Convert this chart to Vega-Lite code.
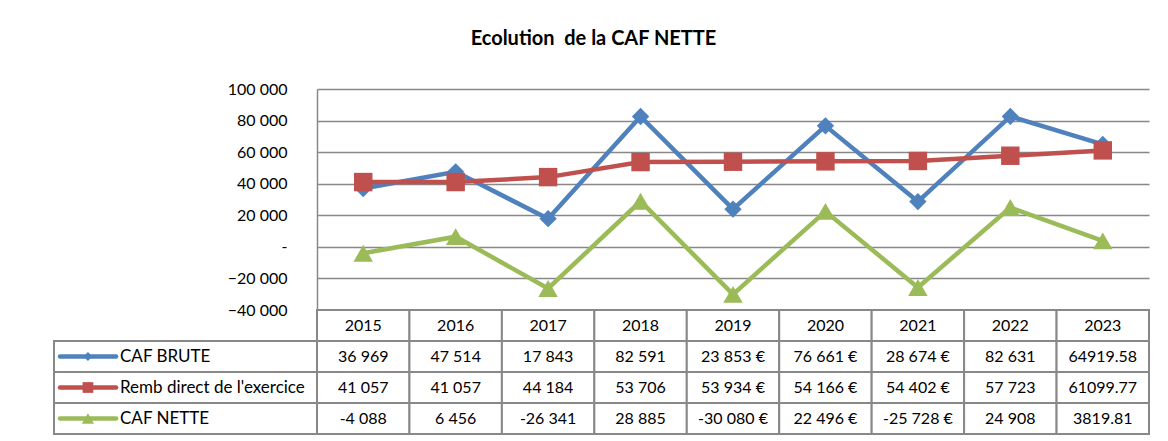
{
  "$schema": "https://vega.github.io/schema/vega-lite/v6.json",
  "padding": {"left": 53, "top": 29, "right": 0, "bottom": 0},
  "background": "white",
  "title": {"text": "Ecolution\u00a0 de la CAF NETTE", "font": "Lato", "fontSize": 20, "fontWeight": "bold", "color": "#000", "anchor": "middle", "offset": 32, "dx": -8},
  "config": {
    "view": {"stroke": null},
    "font": "Lato",
    "concat": {"spacing": 0}
  },
  "datasets": {
    "caf": [
      {"year": "2015", "series": "CAF BRUTE", "value": 36969, "label": "36 969"},
      {"year": "2016", "series": "CAF BRUTE", "value": 47514, "label": "47 514"},
      {"year": "2017", "series": "CAF BRUTE", "value": 17843, "label": "17 843"},
      {"year": "2018", "series": "CAF BRUTE", "value": 82591, "label": "82 591"},
      {"year": "2019", "series": "CAF BRUTE", "value": 23853, "label": "23 853 €"},
      {"year": "2020", "series": "CAF BRUTE", "value": 76661, "label": "76 661 €"},
      {"year": "2021", "series": "CAF BRUTE", "value": 28674, "label": "28 674 €"},
      {"year": "2022", "series": "CAF BRUTE", "value": 82631, "label": "82 631"},
      {"year": "2023", "series": "CAF BRUTE", "value": 64919.58, "label": "64919.58"},
      {"year": "2015", "series": "Remb direct de l'exercice", "value": 41057, "label": "41 057"},
      {"year": "2016", "series": "Remb direct de l'exercice", "value": 41057, "label": "41 057"},
      {"year": "2017", "series": "Remb direct de l'exercice", "value": 44184, "label": "44 184"},
      {"year": "2018", "series": "Remb direct de l'exercice", "value": 53706, "label": "53 706"},
      {"year": "2019", "series": "Remb direct de l'exercice", "value": 53934, "label": "53 934 €"},
      {"year": "2020", "series": "Remb direct de l'exercice", "value": 54166, "label": "54 166 €"},
      {"year": "2021", "series": "Remb direct de l'exercice", "value": 54402, "label": "54 402 €"},
      {"year": "2022", "series": "Remb direct de l'exercice", "value": 57723, "label": "57 723"},
      {"year": "2023", "series": "Remb direct de l'exercice", "value": 61099.77, "label": "61099.77"},
      {"year": "2015", "series": "CAF NETTE", "value": -4088, "label": "-4 088"},
      {"year": "2016", "series": "CAF NETTE", "value": 6456, "label": "6 456"},
      {"year": "2017", "series": "CAF NETTE", "value": -26341, "label": "-26 341"},
      {"year": "2018", "series": "CAF NETTE", "value": 28885, "label": "28 885"},
      {"year": "2019", "series": "CAF NETTE", "value": -30080, "label": "-30 080 €"},
      {"year": "2020", "series": "CAF NETTE", "value": 22496, "label": "22 496 €"},
      {"year": "2021", "series": "CAF NETTE", "value": -25728, "label": "-25 728 €"},
      {"year": "2022", "series": "CAF NETTE", "value": 24908, "label": "24 908"},
      {"year": "2023", "series": "CAF NETTE", "value": 3819.81, "label": "3819.81"}
    ]
  },
  "columns": 2,
  "bounds": "flush",
  "align": "each",
  "spacing": 0,
  "resolve": {"scale": {"x": "independent", "y": "independent", "color": "shared", "shape": "independent", "size": "independent"}},
  "concat": [
    {
      "width": 263,
      "height": 221,
      "data": {"values": [{}]},
      "mark": {"type": "text"},
      "encoding": {"text": {"value": ""}}
    },
    {
      "width": 832,
      "height": 221,
      "data": {"name": "caf"},
      "encoding": {
        "x": {"field": "year", "type": "ordinal", "scale": {"type": "point", "padding": 0.5}, "axis": null},
        "y": {"field": "value", "type": "quantitative", "scale": {"domain": [-40000, 100000], "nice": false, "zero": false},
          "axis": {"values": [-40000, -20000, 0, 20000, 40000, 60000, 80000, 100000], "title": null,
            "labelExpr": "datum.value == 0 ? '-\u00a0\u00a0\u00a0' : replace(format(datum.value, ','), ',', ' ')",
            "grid": true, "gridColor": "#888", "gridWidth": 1.5, "domain": true, "domainColor": "#888", "domainWidth": 1.5,
            "ticks": false, "labelFontSize": 16, "labelColor": "#000", "labelPadding": 30, "labelFont": "Lato"}},
        "color": {"field": "series", "type": "nominal", "legend": null,
          "scale": {"domain": ["CAF BRUTE", "Remb direct de l'exercice", "CAF NETTE"], "range": ["#4F81BD", "#C0504D", "#9BBB59"]}}
      },
      "layer": [
        {"mark": {"type": "line", "strokeWidth": 4.5}},
        {"mark": {"type": "point", "filled": true, "opacity": 1},
          "encoding": {
            "shape": {"field": "series", "type": "nominal", "legend": null,
              "scale": {"domain": ["CAF BRUTE", "Remb direct de l'exercice", "CAF NETTE"], "range": ["diamond", "square", "triangle-up"]}},
            "size": {"field": "series", "type": "nominal", "legend": null,
              "scale": {"domain": ["CAF BRUTE", "Remb direct de l'exercice", "CAF NETTE"], "range": [300, 380, 360]}}
          }}
      ]
    },
    {
      "width": 263,
      "height": 124,
      "data": {"name": "caf"},
      "transform": [{"filter": "datum.year == '2015'"}],
      "encoding": {
        "y": {"field": "series", "type": "nominal", "bandPosition": 0.5, "axis": null,
          "scale": {"domain": ["Année", "CAF BRUTE", "Remb direct de l'exercice", "CAF NETTE"], "paddingInner": 0, "paddingOuter": 0}}
      },
      "layer": [
        {"mark": {"type": "rect", "fill": "white", "stroke": "#888", "strokeWidth": 2},
          "encoding": {
            "y": {"field": "series", "type": "nominal", "axis": null,
              "scale": {"domain": ["Année", "CAF BRUTE", "Remb direct de l'exercice", "CAF NETTE"], "paddingInner": 0, "paddingOuter": 0}},
            "x": {"datum": 0, "type": "quantitative", "scale": {"domain": [0, 100], "nice": false}, "axis": null},
            "x2": {"datum": 100}
          }},
        {"mark": {"type": "rule", "strokeWidth": 4.5, "strokeCap": "round"},
          "encoding": {
            "x": {"datum": 2.3, "type": "quantitative"},
            "x2": {"datum": 23.6},
            "color": {"field": "series", "type": "nominal", "legend": null}
          }},
        {"mark": {"type": "point", "filled": true, "opacity": 1},
          "encoding": {
            "x": {"datum": 12.9, "type": "quantitative"},
            "color": {"field": "series", "type": "nominal", "legend": null},
            "shape": {"field": "series", "type": "nominal", "legend": null,
              "scale": {"domain": ["CAF BRUTE", "Remb direct de l'exercice", "CAF NETTE"], "range": ["diamond", "square", "triangle-up"]}},
            "size": {"field": "series", "type": "nominal", "legend": null,
              "scale": {"domain": ["CAF BRUTE", "Remb direct de l'exercice", "CAF NETTE"], "range": [80, 150, 100]}}
          }},
        {"mark": {"type": "text", "align": "left", "baseline": "middle", "fontSize": 17, "font": "Lato", "color": "#000"},
          "encoding": {
            "x": {"datum": 25.1, "type": "quantitative"},
            "text": {"field": "series"}
          }}
      ]
    },
    {
      "width": 832,
      "height": 124,
      "data": {"name": "caf"},
      "encoding": {
        "x": {"field": "year", "type": "ordinal", "scale": {"type": "band", "paddingInner": 0, "paddingOuter": 0}, "axis": null}
      },
      "layer": [
        {"mark": {"type": "rect", "fill": "white", "stroke": "#888", "strokeWidth": 2},
          "encoding": {
            "y": {"field": "series", "type": "nominal", "axis": null,
              "scale": {"domain": ["Année", "CAF BRUTE", "Remb direct de l'exercice", "CAF NETTE"], "paddingInner": 0, "paddingOuter": 0}}
          }},
        {"transform": [{"filter": "datum.series == 'CAF BRUTE'"}],
          "mark": {"type": "rect", "fill": "white", "stroke": "#888", "strokeWidth": 2},
          "encoding": {
            "y": {"datum": "Année", "type": "nominal"}
          }},
        {"mark": {"type": "text", "align": "center", "baseline": "middle", "fontSize": 16, "font": "Lato", "color": "#000"},
          "encoding": {
            "y": {"field": "series", "type": "nominal", "bandPosition": 0.5},
            "text": {"field": "label"}
          }},
        {"transform": [{"filter": "datum.series == 'CAF BRUTE'"}],
          "mark": {"type": "text", "align": "center", "baseline": "middle", "fontSize": 16, "font": "Lato", "color": "#000"},
          "encoding": {
            "y": {"datum": "Année", "type": "nominal", "bandPosition": 0.5},
            "text": {"field": "year"}
          }}
      ]
    }
  ]
}
